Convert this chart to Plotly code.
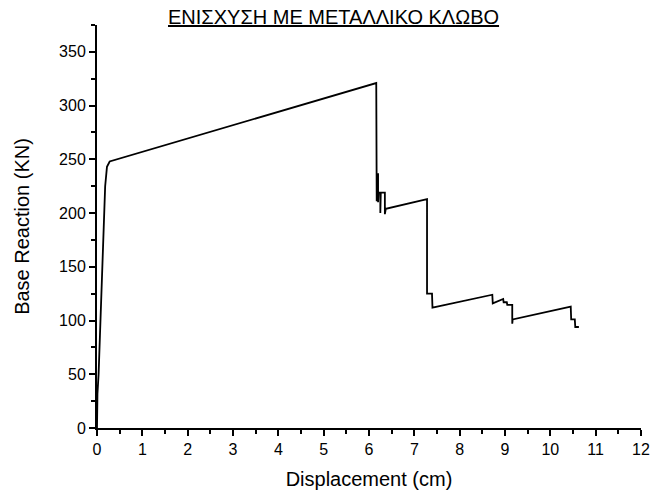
import plotly.graph_objects as go

# Pushover curve: roof displacement (cm) vs base reaction (kN)
displacement_cm = [
    0.0, 0.01, 0.035, 0.073, 0.11, 0.123, 0.145, 0.18, 0.22, 0.28,
    6.16, 6.17, 6.20, 6.20, 6.21, 6.25, 6.25, 6.26, 6.35, 6.35, 6.37,
    7.28, 7.28, 7.39, 7.40,
    8.72, 8.73, 8.96, 8.97, 9.04, 9.05, 9.16, 9.16, 9.17,
    10.45, 10.46, 10.54, 10.55, 10.63,
]
base_reaction_kn = [
    0, 32, 50, 100, 150, 168, 193, 225, 243, 248,
    321, 211, 237, 210, 219, 219, 200, 219, 219, 199, 204,
    213, 125, 125, 112,
    124, 116, 120, 117, 117, 114.5, 114.5, 97, 101,
    113, 101, 101, 94, 94,
]

x_ticks = list(range(0, 13))
y_ticks = list(range(0, 351, 50))

title_text = "ΕΝΙΣΧΥΣΗ ΜΕ ΜΕΤΑΛΛΙΚΟ ΚΛΩΒΟ"
x_title = "Displacement (cm)"
y_title = "Base Reaction (KN)"

font_family = "Liberation Sans, Arial, sans-serif"

fig = go.Figure()
fig.add_trace(go.Scatter(
    x=displacement_cm,
    y=base_reaction_kn,
    mode="lines",
    line=dict(color="black", width=1.8),
    showlegend=False,
    hoverinfo="x+y",
))

axis_common = dict(
    showgrid=False,
    zeroline=False,
    showline=True,
    linecolor="black",
    linewidth=2,
    ticks="outside",
    tickcolor="black",
    tickwidth=1.5,
    ticklen=6,
    tickfont=dict(family=font_family, size=16, color="black"),
    mirror=False,
    automargin=False,
)

fig.update_xaxes(
    range=[0, 12],
    tickvals=x_ticks,
    ticktext=[str(v) for v in x_ticks],
    minor=dict(dtick=0.5, ticks="outside", ticklen=4, tickcolor="black", tickwidth=1.5),
    title=dict(text=x_title, font=dict(family=font_family, size=20, color="black"), standoff=15),
    **axis_common,
)
fig.update_yaxes(
    range=[0, 375],
    tickvals=y_ticks,
    ticktext=[str(v) for v in y_ticks],
    minor=dict(dtick=25, ticks="outside", ticklen=4, tickcolor="black", tickwidth=1.5),
    title=dict(text=y_title, font=dict(family=font_family, size=20, color="black"), standoff=24),
    **axis_common,
)

fig.add_annotation(
    text=f"<u>{title_text}</u>",
    xref="paper", yref="paper",
    x=0.435, y=1.0, yshift=8,
    xanchor="center", yanchor="middle",
    showarrow=False,
    font=dict(family=font_family, size=20, color="black"),
)

fig.update_layout(
    width=652,
    height=491,
    margin=dict(l=97, r=11, t=25, b=63),
    paper_bgcolor="white",
    plot_bgcolor="white",
)

fig.write_html("out.html")
